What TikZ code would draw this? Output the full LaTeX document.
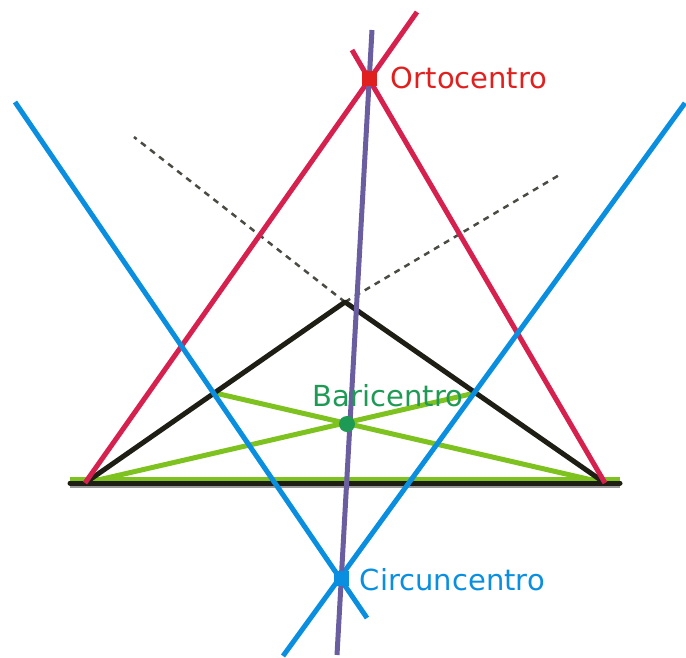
\documentclass[tikz,border=0pt]{standalone}
\usepackage{fontspec}
\setmainfont{DejaVu Sans}
\usepackage{xcolor}
\usetikzlibrary{positioning}

\definecolor{altred}{HTML}{D6204E}
\definecolor{ortotext}{HTML}{E0201E}
\definecolor{eulerpurple}{HTML}{6A5EA0}
\definecolor{mediatblue}{HTML}{0A8FE0}
\definecolor{medgreen}{HTML}{7DC21E}
\definecolor{barigreen}{HTML}{1E9A55}
\definecolor{triblack}{HTML}{1E1E14}

\begin{document}
\begin{tikzpicture}[x=1pt, y=-1pt,
    side/.style={line width=5pt, color=triblack, line cap=round, line join=round},
    ext/.style={line width=2.5pt, color=triblack!80, dash pattern=on 6pt off 5.5pt},
    altura/.style={line width=5pt, color=altred},
    mediatriz/.style={line width=5pt, color=mediatblue},
    mediana/.style={line width=5pt, color=medgreen},
    euler/.style={line width=5pt, color=eulerpurple},
    centro/.style={rectangle, minimum size=15pt, inner sep=0pt},
    tag/.style={inner sep=0pt, font=\fontsize{29}{32}\selectfont}
]
    \useasboundingbox (0,0) rectangle (686,657);

    % Triangle vertices
    \coordinate (A) at (85,483);
    \coordinate (B) at (605,483);
    \coordinate (C) at (345,302);

    % Free ends of the lines
    \coordinate (baseL) at (70,483);
    \coordinate (baseR) at (620,483);
    \coordinate (dashL) at (134,137);
    \coordinate (dashR) at (561,174);
    \coordinate (redA) at (417,12);
    \coordinate (redB) at (352,50);
    \coordinate (blueL1) at (15,102);
    \coordinate (blueL2) at (367,618);
    \coordinate (blueR1) at (685,103);
    \coordinate (blueR2) at (283,656);
    \coordinate (eulerT) at (372,30);
    \coordinate (eulerB) at (337,655);
    \coordinate (midBC) at (475,393);
    \coordinate (midAC) at (215,393);

    % Extensions of the sides
    \draw[ext] (C) -- (dashL);
    \draw[ext] (C) -- (dashR);

    % Medians
    \draw[mediana] ([yshift=4pt]baseL) -- ([yshift=4pt]baseR);
    \draw[mediana] (A) -- (midBC);
    \draw[mediana] (B) -- (midAC);

    % Triangle
    \draw[line width=2pt, color=gray!80] ([yshift=-4pt]baseL) -- ([yshift=-4pt]baseR);
    \draw[side] (baseL) -- (baseR);
    \draw[side] (A) -- (C) -- (B);

    % Altitudes
    \draw[altura] (A) -- (redA);
    \draw[altura] (B) -- (redB);

    % Perpendicular bisectors
    \draw[mediatriz] (blueL1) -- (blueL2);
    \draw[mediatriz] (blueR1) -- (blueR2);

    % Euler line
    \draw[euler] (eulerT) -- (eulerB);

    % Centres
    \node[centro, fill=ortotext] (H) at (369,78) {};
    \node[circle, fill=barigreen, minimum size=16pt, inner sep=0pt] (G) at (347,424) {};
    \node[centro, fill=mediatblue] (O) at (341,578) {};

    % Labels
    \node[tag, text=ortotext, right=14pt of H] (hlabel) {Ortocentro};
    \node[tag, text=barigreen] (glabel) at (388,396) {Baricentro};
    \node[tag, text=mediatblue, right=11pt of O, yshift=-2pt] (olabel) {Circuncentro};
\end{tikzpicture}
\end{document}
